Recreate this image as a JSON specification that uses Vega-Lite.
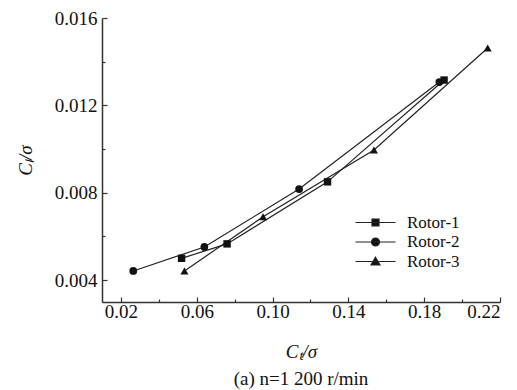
{
  "$schema": "https://vega.github.io/schema/vega-lite/v6.json",
  "width": 398,
  "height": 284,
  "autosize": "none",
  "padding": {"left": 102, "top": 18, "right": 17, "bottom": 88},
  "background": "white",
  "config": {
    "view": {"stroke": null},
    "axis": {
      "domainColor": "#333",
      "domainWidth": 1.5,
      "tickColor": "#333",
      "tickWidth": 1.2,
      "labelFont": "Liberation Serif",
      "labelFontSize": 19,
      "labelColor": "#111",
      "titleFont": "Liberation Serif",
      "titleFontSize": 19,
      "titleFontStyle": "italic",
      "titleFontWeight": "normal",
      "titleColor": "#111",
      "grid": false
    }
  },
  "title": {
    "text": "(a) n=1 200 r/min",
    "orient": "bottom",
    "anchor": "middle",
    "fontSize": 19,
    "fontWeight": "normal",
    "font": "Liberation Serif",
    "color": "#111",
    "offset": 9
  },
  "data": {
    "values": [
      {"rotor": "Rotor-1", "ct": 0.052, "cl": 0.0050},
      {"rotor": "Rotor-1", "ct": 0.076, "cl": 0.00566},
      {"rotor": "Rotor-1", "ct": 0.129, "cl": 0.0085},
      {"rotor": "Rotor-1", "ct": 0.1905, "cl": 0.01316},
      {"rotor": "Rotor-2", "ct": 0.0265, "cl": 0.00442},
      {"rotor": "Rotor-2", "ct": 0.064, "cl": 0.00552},
      {"rotor": "Rotor-2", "ct": 0.114, "cl": 0.00817},
      {"rotor": "Rotor-2", "ct": 0.188, "cl": 0.01307},
      {"rotor": "Rotor-3", "ct": 0.0535, "cl": 0.00442},
      {"rotor": "Rotor-3", "ct": 0.095, "cl": 0.0069},
      {"rotor": "Rotor-3", "ct": 0.1535, "cl": 0.00996},
      {"rotor": "Rotor-3", "ct": 0.2135, "cl": 0.01463}
    ]
  },
  "encoding": {
    "x": {
      "field": "ct",
      "type": "quantitative",
      "scale": {"domain": [0.01, 0.22], "nice": false, "zero": false},
      "axis": {
        "title": "Cₜ/σ",
        "values": [0.02, 0.04, 0.06, 0.08, 0.10, 0.12, 0.14, 0.16, 0.18, 0.20, 0.22],
        "format": ".2f",
        "labelExpr": "round(datum.value*100) % 4 == 2 ? datum.label : ''",
        "tickSize": {"condition": {"test": "round(datum.value*100) % 4 == 2", "value": -5}, "value": -3},
        "labelPadding": 5,
        "titlePadding": 21
      }
    },
    "y": {
      "field": "cl",
      "type": "quantitative",
      "scale": {"domain": [0.003, 0.016], "nice": false, "zero": false},
      "axis": {
        "title": "Cₗ/σ",
        "values": [0.004, 0.006, 0.008, 0.010, 0.012, 0.014, 0.016],
        "format": ".3f",
        "labelExpr": "round(datum.value*1000) % 4 == 0 ? datum.label : ''",
        "tickSize": {"condition": {"test": "round(datum.value*1000) % 4 == 0", "value": -5}, "value": -3},
        "labelPadding": 10,
        "titlePadding": 19
      }
    }
  },
  "layer": [
    {
      "mark": {"type": "line", "strokeWidth": 1.2},
      "encoding": {
        "color": {
          "field": "rotor",
          "type": "nominal",
          "scale": {"domain": ["Rotor-1", "Rotor-2", "Rotor-3"], "range": ["#222", "#222", "#222"]},
          "legend": {
            "title": null,
            "orient": "none",
            "legendX": 265,
            "legendY": 196,
            "labelFont": "Liberation Serif",
            "labelFontSize": 17,
            "labelColor": "#111",
            "labelOffset": 23,
            "symbolSize": 100,
            "rowPadding": 1.5,
            "encode": {
              "symbols": {
                "update": {
                  "shape": {"signal": "datum.value === 'Rotor-1' ? 'M-4,0H4M-0.7,-0.7H0.7V0.7H-0.7Z' : datum.value === 'Rotor-2' ? 'M-4,0H4M0.8,0A0.8,0.8,0,1,1,-0.8,0A0.8,0.8,0,1,1,0.8,0Z' : 'M-4,0H4M0,-0.85L0.9,0.7L-0.9,0.7Z'"},
                  "fill": {"value": "#111"},
                  "stroke": {"value": "#222"},
                  "strokeWidth": {"value": 1.2},
                  "opacity": {"value": 1}
                }
              }
            }
          }
        }
      }
    },
    {
      "transform": [{"filter": "datum.rotor === 'Rotor-1'"}],
      "mark": {"type": "point", "filled": true, "opacity": 1, "size": 55, "shape": "square", "color": "#111"}
    },
    {
      "transform": [{"filter": "datum.rotor === 'Rotor-2'"}],
      "mark": {"type": "point", "filled": true, "opacity": 1, "size": 60, "shape": "circle", "color": "#111"}
    },
    {
      "transform": [{"filter": "datum.rotor === 'Rotor-3'"}],
      "mark": {"type": "point", "filled": true, "opacity": 1, "size": 65, "shape": "triangle-up", "color": "#111"}
    }
  ]
}
